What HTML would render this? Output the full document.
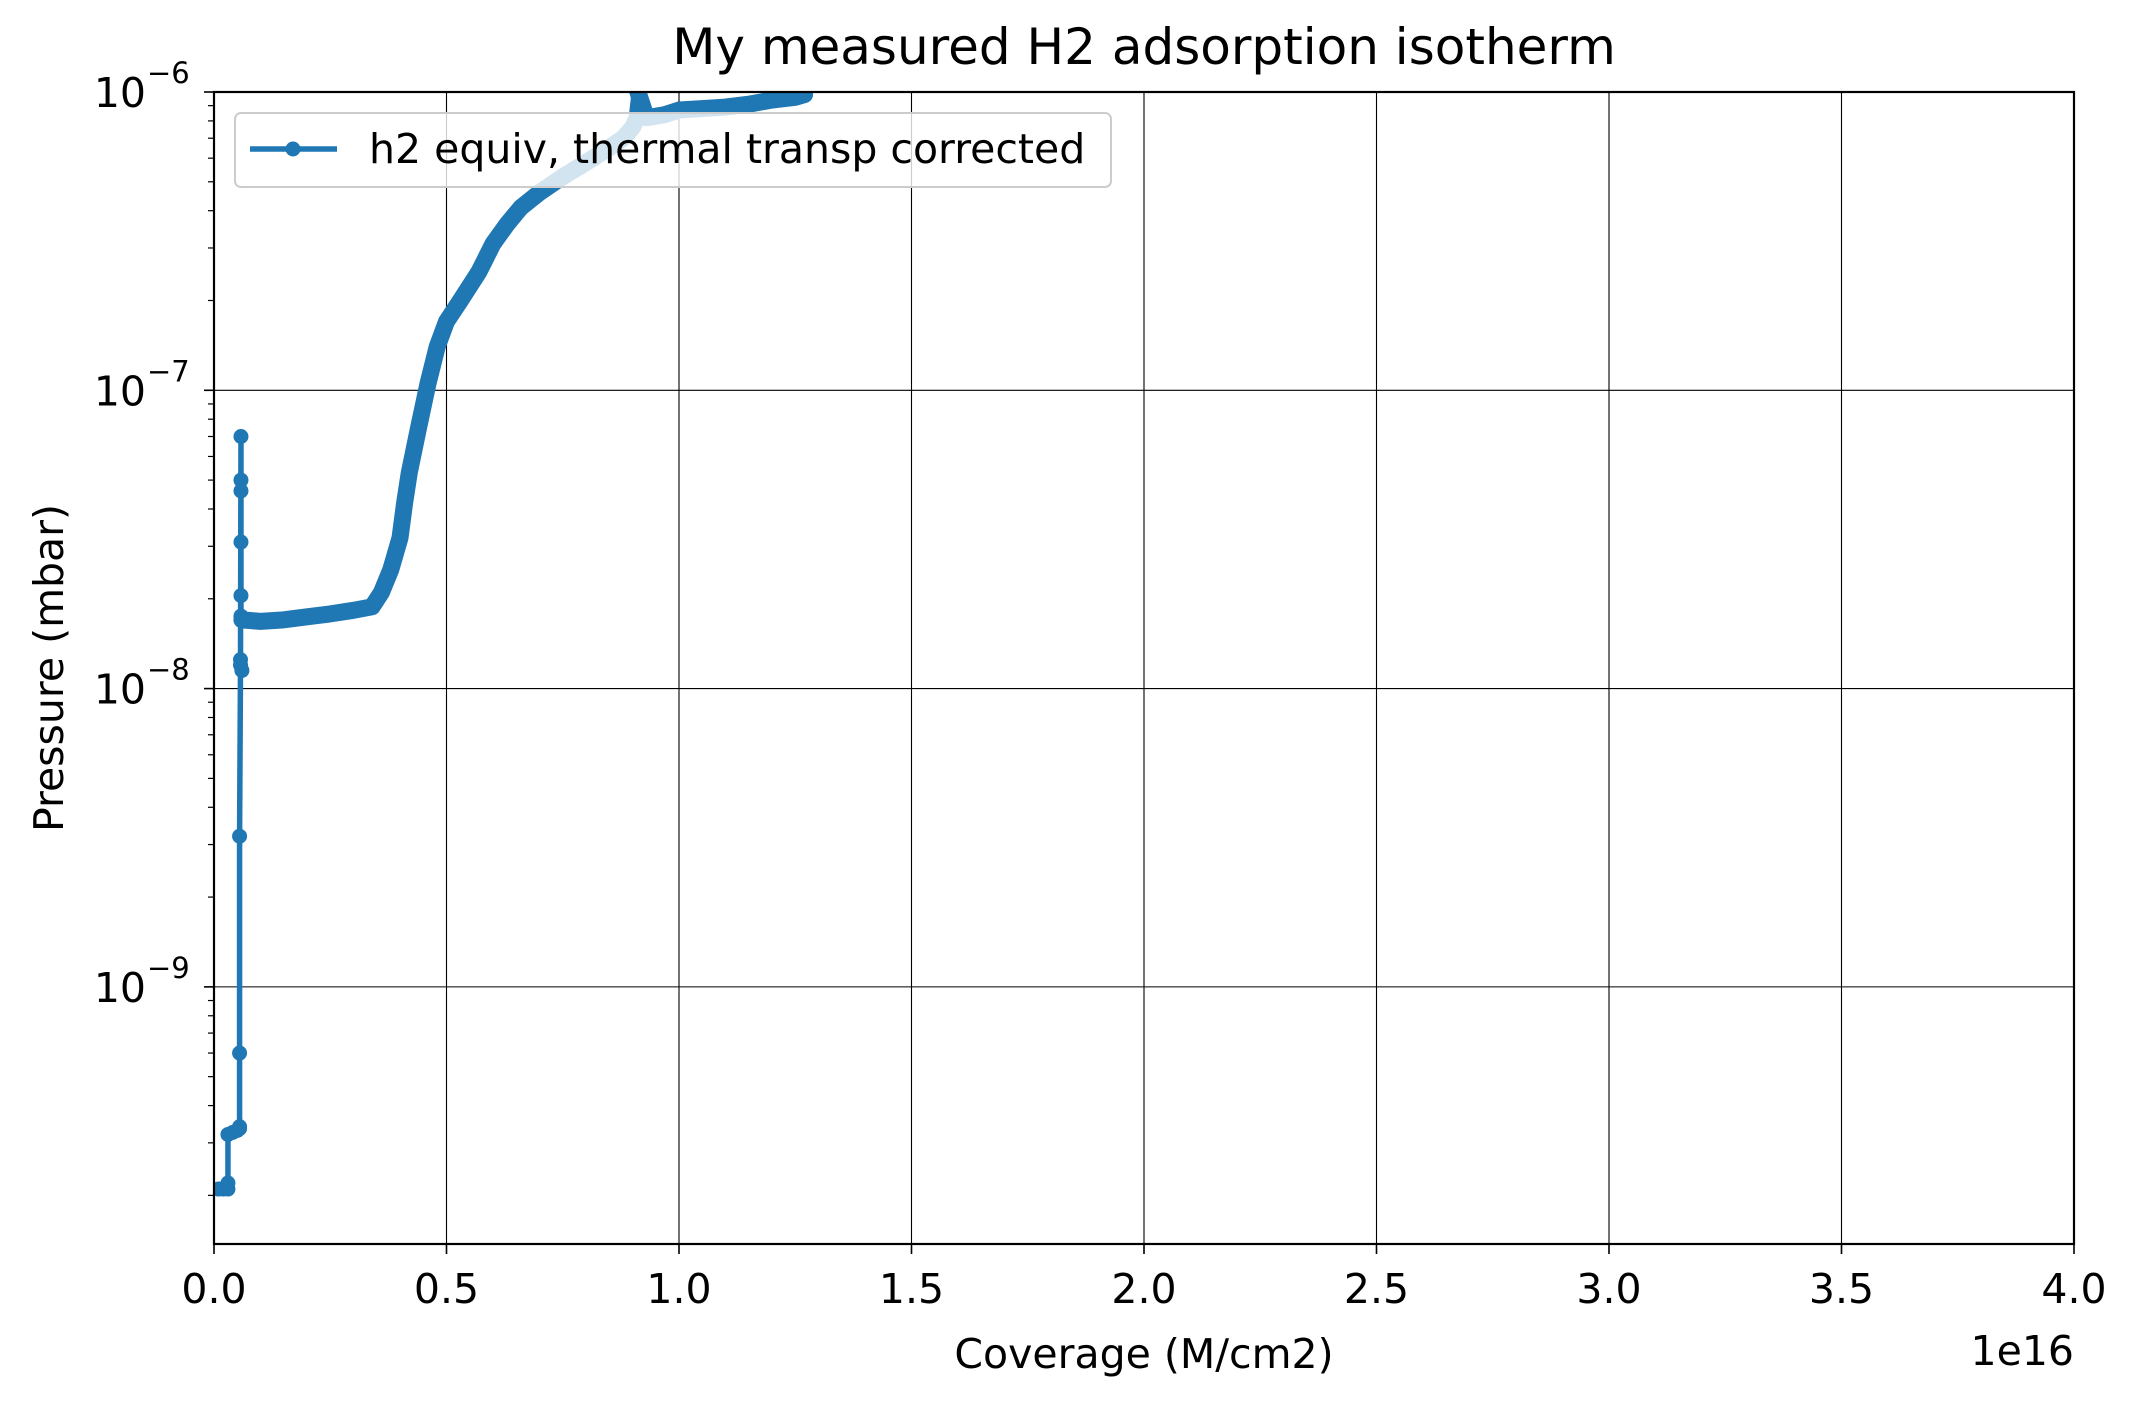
<!DOCTYPE html>
<html><head><meta charset="utf-8"><style>
html,body{margin:0;padding:0;background:#fff;}
svg{display:block;font-family:"DejaVu Sans","Liberation Sans",sans-serif;}
</style></head><body>
<svg id="chart" width="2137" height="1407" viewBox="0 0 2137 1407" xmlns="http://www.w3.org/2000/svg">
<rect width="2137" height="1407" fill="#fff"/>
<g id="grid"></g>
<g id="series"></g>
<g id="axes"></g>
</svg>
<script>
// sparse (marker-visible) points: coverage (1e16 M/cm2), pressure (mbar)
const sparseX = [0.01,0.02,0.03,0.03,0.03,0.04,0.05,0.055,0.055,0.055,0.055,0.057,0.06,0.057,0.058,0.058,0.058,0.058,0.058,0.058,0.06];
const sparseY = [2.1e-10,2.1e-10,2.1e-10,2.2e-10,3.2e-10,3.25e-10,3.3e-10,3.35e-10,3.4e-10,6e-10,3.2e-9,1.2e-8,1.15e-8,1.25e-8,7e-8,5e-8,4.6e-8,3.1e-8,2.05e-8,1.75e-8,1.7e-8];
// dense band of measurements
const denseX = [0.06,0.1,0.15,0.2,0.25,0.3,0.34,0.36,0.38,0.4,0.41,0.42,0.44,0.46,0.48,0.5,0.53,0.57,0.6,0.63,0.66,0.7,0.75,0.8,0.85,0.88,0.9,0.91,0.915,0.91,0.93,0.97,1.0,1.05,1.1,1.15,1.2,1.25,1.27];
const denseY = [1.7e-8,1.68e-8,1.7e-8,1.74e-8,1.78e-8,1.83e-8,1.88e-8,2.1e-8,2.5e-8,3.2e-8,4.2e-8,5.3e-8,7.5e-8,1.05e-7,1.4e-7,1.7e-7,2.0e-7,2.5e-7,3.1e-7,3.6e-7,4.1e-7,4.6e-7,5.2e-7,5.8e-7,6.5e-7,7.0e-7,7.6e-7,8.2e-7,9.6e-7,1.02e-6,8.2e-7,8.4e-7,8.7e-7,8.8e-7,8.9e-7,9.1e-7,9.4e-7,9.6e-7,9.8e-7];
const xTicks = [0,0.5,1.0,1.5,2.0,2.5,3.0,3.5,4.0];
const xTickLabels = ["0.0","0.5","1.0","1.5","2.0","2.5","3.0","3.5","4.0"];
const yDecades = [-9,-8,-7,-6];

const L=214,R=2074,T=92,B=1244;
const xMin=0,xMax=4, yMinLog=-9.862, yMaxLog=-6;
const sx=v=>L+(v-xMin)/(xMax-xMin)*(R-L);
const sy=v=>B-(Math.log10(v)-yMinLog)/(yMaxLog-yMinLog)*(B-T);
const NS="http://www.w3.org/2000/svg";
function mk(tag,attrs,parent,text){const e=document.createElementNS(NS,tag);for(const k in attrs)e.setAttribute(k,attrs[k]);if(text!==undefined)e.textContent=text;parent.appendChild(e);return e;}
const grid=document.getElementById('grid'),ser=document.getElementById('series'),ax=document.getElementById('axes');
const svg=document.getElementById('chart');

const defs=mk('defs',{},svg);
const cp=mk('clipPath',{id:'clip'},defs);mk('rect',{x:L,y:T,width:R-L,height:B-T},cp);
ser.setAttribute('clip-path','url(#clip)');

xTicks.forEach(v=>{const g=mk('line',{x1:sx(v),x2:sx(v),y1:T,y2:B,stroke:'#000','stroke-width':1.1},grid);

});
yDecades.forEach(d=>{const g=mk('line',{x1:L,x2:R,y1:sy(Math.pow(10,d)),y2:sy(Math.pow(10,d)),stroke:'#000','stroke-width':1.1},grid);

});

const c='#1f77b4';
const sp=sparseX.map((x,i)=>sx(x)+','+sy(sparseY[i])).join(' ');
const l1=mk('polyline',{points:sp,fill:'none',stroke:c,'stroke-width':5.5,'stroke-linejoin':'round'},ser);


const dp=denseX.map((x,i)=>sx(x)+','+sy(denseY[i])).join(' ');
const l2=mk('polyline',{points:dp,fill:'none',stroke:c,'stroke-width':17,'stroke-linejoin':'round','stroke-linecap':'round'},ser);


sparseX.forEach((x,i)=>{const m=mk('circle',{cx:sx(x),cy:sy(sparseY[i]),r:7.5,fill:c},ser);

});

const fr=mk('rect',{x:L,y:T,width:R-L,height:B-T,fill:'none',stroke:'#000','stroke-width':2.2},ax);



xTicks.forEach((v,i)=>{mk('line',{x1:sx(v),x2:sx(v),y1:B,y2:B+10,stroke:'#000','stroke-width':1.6},ax);
const t=mk('text',{x:sx(v),y:1303,'font-size':41,'text-anchor':'middle',fill:'#000'},ax,xTickLabels[i]);

});
yDecades.forEach(d=>{const y=sy(Math.pow(10,d));
mk('line',{x1:L-10,x2:L,y1:y,y2:y,stroke:'#000','stroke-width':1.6},ax);
const t=mk('text',{x:L-68,y:y+15,'font-size':41,'text-anchor':'end',fill:'#000'},ax,'10');


mk('text',{x:L-67,y:y-9,'font-size':29,'text-anchor':'start',fill:'#000'},ax,'\u2212'+(-d));
for(let k=2;k<10;k++){const v=k*Math.pow(10,d-1);if(Math.log10(v)<yMinLog)continue;const yy=sy(v);
mk('line',{x1:L-6,x2:L,y1:yy,y2:yy,stroke:'#000','stroke-width':1.2},ax);}
});

const ti=mk('text',{x:1144,y:64,'font-size':50,'text-anchor':'middle',fill:'#000'},ax,'My measured H2 adsorption isotherm');


const xl=mk('text',{x:1144,y:1368,'font-size':41,'text-anchor':'middle',fill:'#000'},ax,'Coverage (M/cm2)');


const ex=mk('text',{x:2074,y:1365,'font-size':41,'text-anchor':'end',fill:'#000'},ax,'1e16');


const yl=mk('text',{x:0,y:0,'font-size':41,'text-anchor':'middle',fill:'#000',transform:'translate(63,668) rotate(-90)'},ax,'Pressure (mbar)');



const lg=mk('g',{},ax);


mk('rect',{x:235,y:113,width:876,height:74,rx:6,fill:'#fff','fill-opacity':0.8,stroke:'#ccc','stroke-width':2},lg);
mk('line',{x1:250,x2:337,y1:149,y2:149,stroke:c,'stroke-width':5.5},lg);
mk('circle',{cx:293,cy:149,r:7.5,fill:c},lg);
const lt=mk('text',{x:369,y:163,'font-size':41,fill:'#000'},lg,'h2 equiv, thermal transp corrected');


</script>
</body></html>
